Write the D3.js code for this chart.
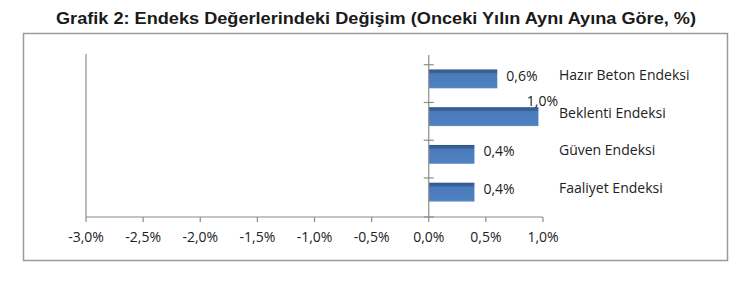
<!DOCTYPE html>
<html>
<head>
<meta charset="utf-8">
<script src="https://cdn.jsdelivr.net/npm/d3@7"></script>
<style>
  html, body { margin: 0; padding: 0; background: #fff; }
  svg { display: block; }
</style>
</head>
<body>
<svg id="chart" width="750" height="282"></svg>
<script>
// Yıllık değişim (%), kategori sırası yukarıdan aşağıya
const categories = ["Hazır Beton Endeksi", "Beklenti Endeksi", "Güven Endeksi", "Faaliyet Endeksi"];
const values = [0.6, 0.96, 0.4, 0.4];
const xTicks = [-3, -2.5, -2, -1.5, -1, -0.5, 0, 0.5, 1];
const titleText = "Grafik 2: Endeks Değerlerindeki Değişim (Onceki Yılın Aynı Ayına Göre, %)";

const svg = d3.select("#chart");
const fmt = v => d3.format(".1f")(v).replace(".", ",").replace("−", "-") + "%";
const labelFont = "'Open Sans', Lato, sans-serif";
const labelSize = 14;

// Başlık
svg.append("text")
  .attr("x", 376).attr("y", 24)
  .attr("text-anchor", "middle")
  .attr("font-family", "'Liberation Sans', Arial, sans-serif")
  .attr("font-weight", "bold")
  .attr("font-size", 17)
  .attr("fill", "#1a1a1a")
  .attr("textLength", 640)
  .attr("lengthAdjust", "spacingAndGlyphs")
  .text(titleText);

// Grafik çerçevesi
svg.append("rect")
  .attr("x", 23.5).attr("y", 33.5)
  .attr("width", 704).attr("height", 227)
  .attr("fill", "none")
  .attr("stroke", "#9a9a9a")
  .attr("stroke-width", 1.5);

const plotTop = 54, plotBottom = 217;

const x = d3.scaleLinear().domain([-3, 1]).range([86, 543]);
const y = d3.scaleBand().domain(categories).range([60, 211])
  .paddingInner(0.5).paddingOuter(0.25);

// Gradyan dolgulu çubuklar
const defs = svg.append("defs");
const grad = defs.append("linearGradient").attr("id", "barFill")
  .attr("x1", 0).attr("y1", 0).attr("x2", 0).attr("y2", 1);
grad.append("stop").attr("offset", "0%").attr("stop-color", "#34578c");
grad.append("stop").attr("offset", "17%").attr("stop-color", "#3a629d");
grad.append("stop").attr("offset", "23%").attr("stop-color", "#4a7bbb");
grad.append("stop").attr("offset", "90%").attr("stop-color", "#4f80bf");
grad.append("stop").attr("offset", "100%").attr("stop-color", "#5a8ac6");

// Sol kenar çizgisi
svg.append("line")
  .attr("x1", x(-3)).attr("x2", x(-3))
  .attr("y1", plotTop).attr("y2", plotBottom)
  .attr("stroke", "#8c8c8c").attr("stroke-width", 1.2);

// Yatay eksen
const axisColor = "#8c8c8c";
svg.append("line")
  .attr("x1", x(-3)).attr("x2", x(1))
  .attr("y1", plotBottom).attr("y2", plotBottom)
  .attr("stroke", axisColor).attr("stroke-width", 1.2);

svg.append("g").selectAll("line").data(xTicks).join("line")
  .attr("x1", d => x(d)).attr("x2", d => x(d))
  .attr("y1", plotBottom).attr("y2", plotBottom + 5)
  .attr("stroke", axisColor).attr("stroke-width", 1.2);

svg.append("g").selectAll("text").data(xTicks).join("text")
  .attr("x", d => x(d)).attr("y", 242)
  .attr("text-anchor", "middle")
  .attr("font-family", labelFont)
  .attr("font-size", labelSize)
  .attr("fill", "#222")
  .text(d => fmt(d));

// Çubuklar
svg.append("g").selectAll("rect").data(values).join("rect")
  .attr("x", x(0))
  .attr("y", (d, i) => y(categories[i]))
  .attr("width", d => x(d) - x(0))
  .attr("height", y.bandwidth())
  .attr("fill", "url(#barFill)");

// Dikey (kategori) ekseni ve çentikleri
svg.append("line")
  .attr("x1", x(0)).attr("x2", x(0))
  .attr("y1", plotTop + 1).attr("y2", plotBottom)
  .attr("stroke", axisColor).attr("stroke-width", 1.2);

const tickShift = y.step() * y.paddingInner() / 4;
const catTicks = categories.map(c => y(c) - tickShift).concat([plotBottom]);
svg.append("g").selectAll("line").data(catTicks).join("line")
  .attr("x1", x(0) - 5).attr("x2", x(0) + 5)
  .attr("y1", d => d).attr("y2", d => d)
  .attr("stroke", axisColor).attr("stroke-width", 1.2);

// Değer etiketleri
const vmax = d3.max(values);
svg.append("g").selectAll("text").data(values).join("text")
  .attr("x", d => d === vmax ? x(d) + 4 : x(d) + 9)
  .attr("y", (d, i) => d === vmax
      ? y(categories[i]) - 6
      : y(categories[i]) + y.bandwidth() / 2 - 3)
  .attr("dy", "0.35em")
  .attr("text-anchor", d => d === vmax ? "middle" : "start")
  .attr("font-family", labelFont)
  .attr("font-size", labelSize)
  .attr("fill", "#222")
  .text(d => fmt(d));

// Kategori adları
svg.append("g").selectAll("text").data(categories).join("text")
  .attr("x", 559)
  .attr("y", c => y(c) + y.bandwidth() / 2 - 4)
  .attr("dy", "0.35em")
  .attr("font-family", labelFont)
  .attr("font-size", labelSize)
  .attr("fill", "#222")
  .text(c => c);
</script>
</body>
</html>
